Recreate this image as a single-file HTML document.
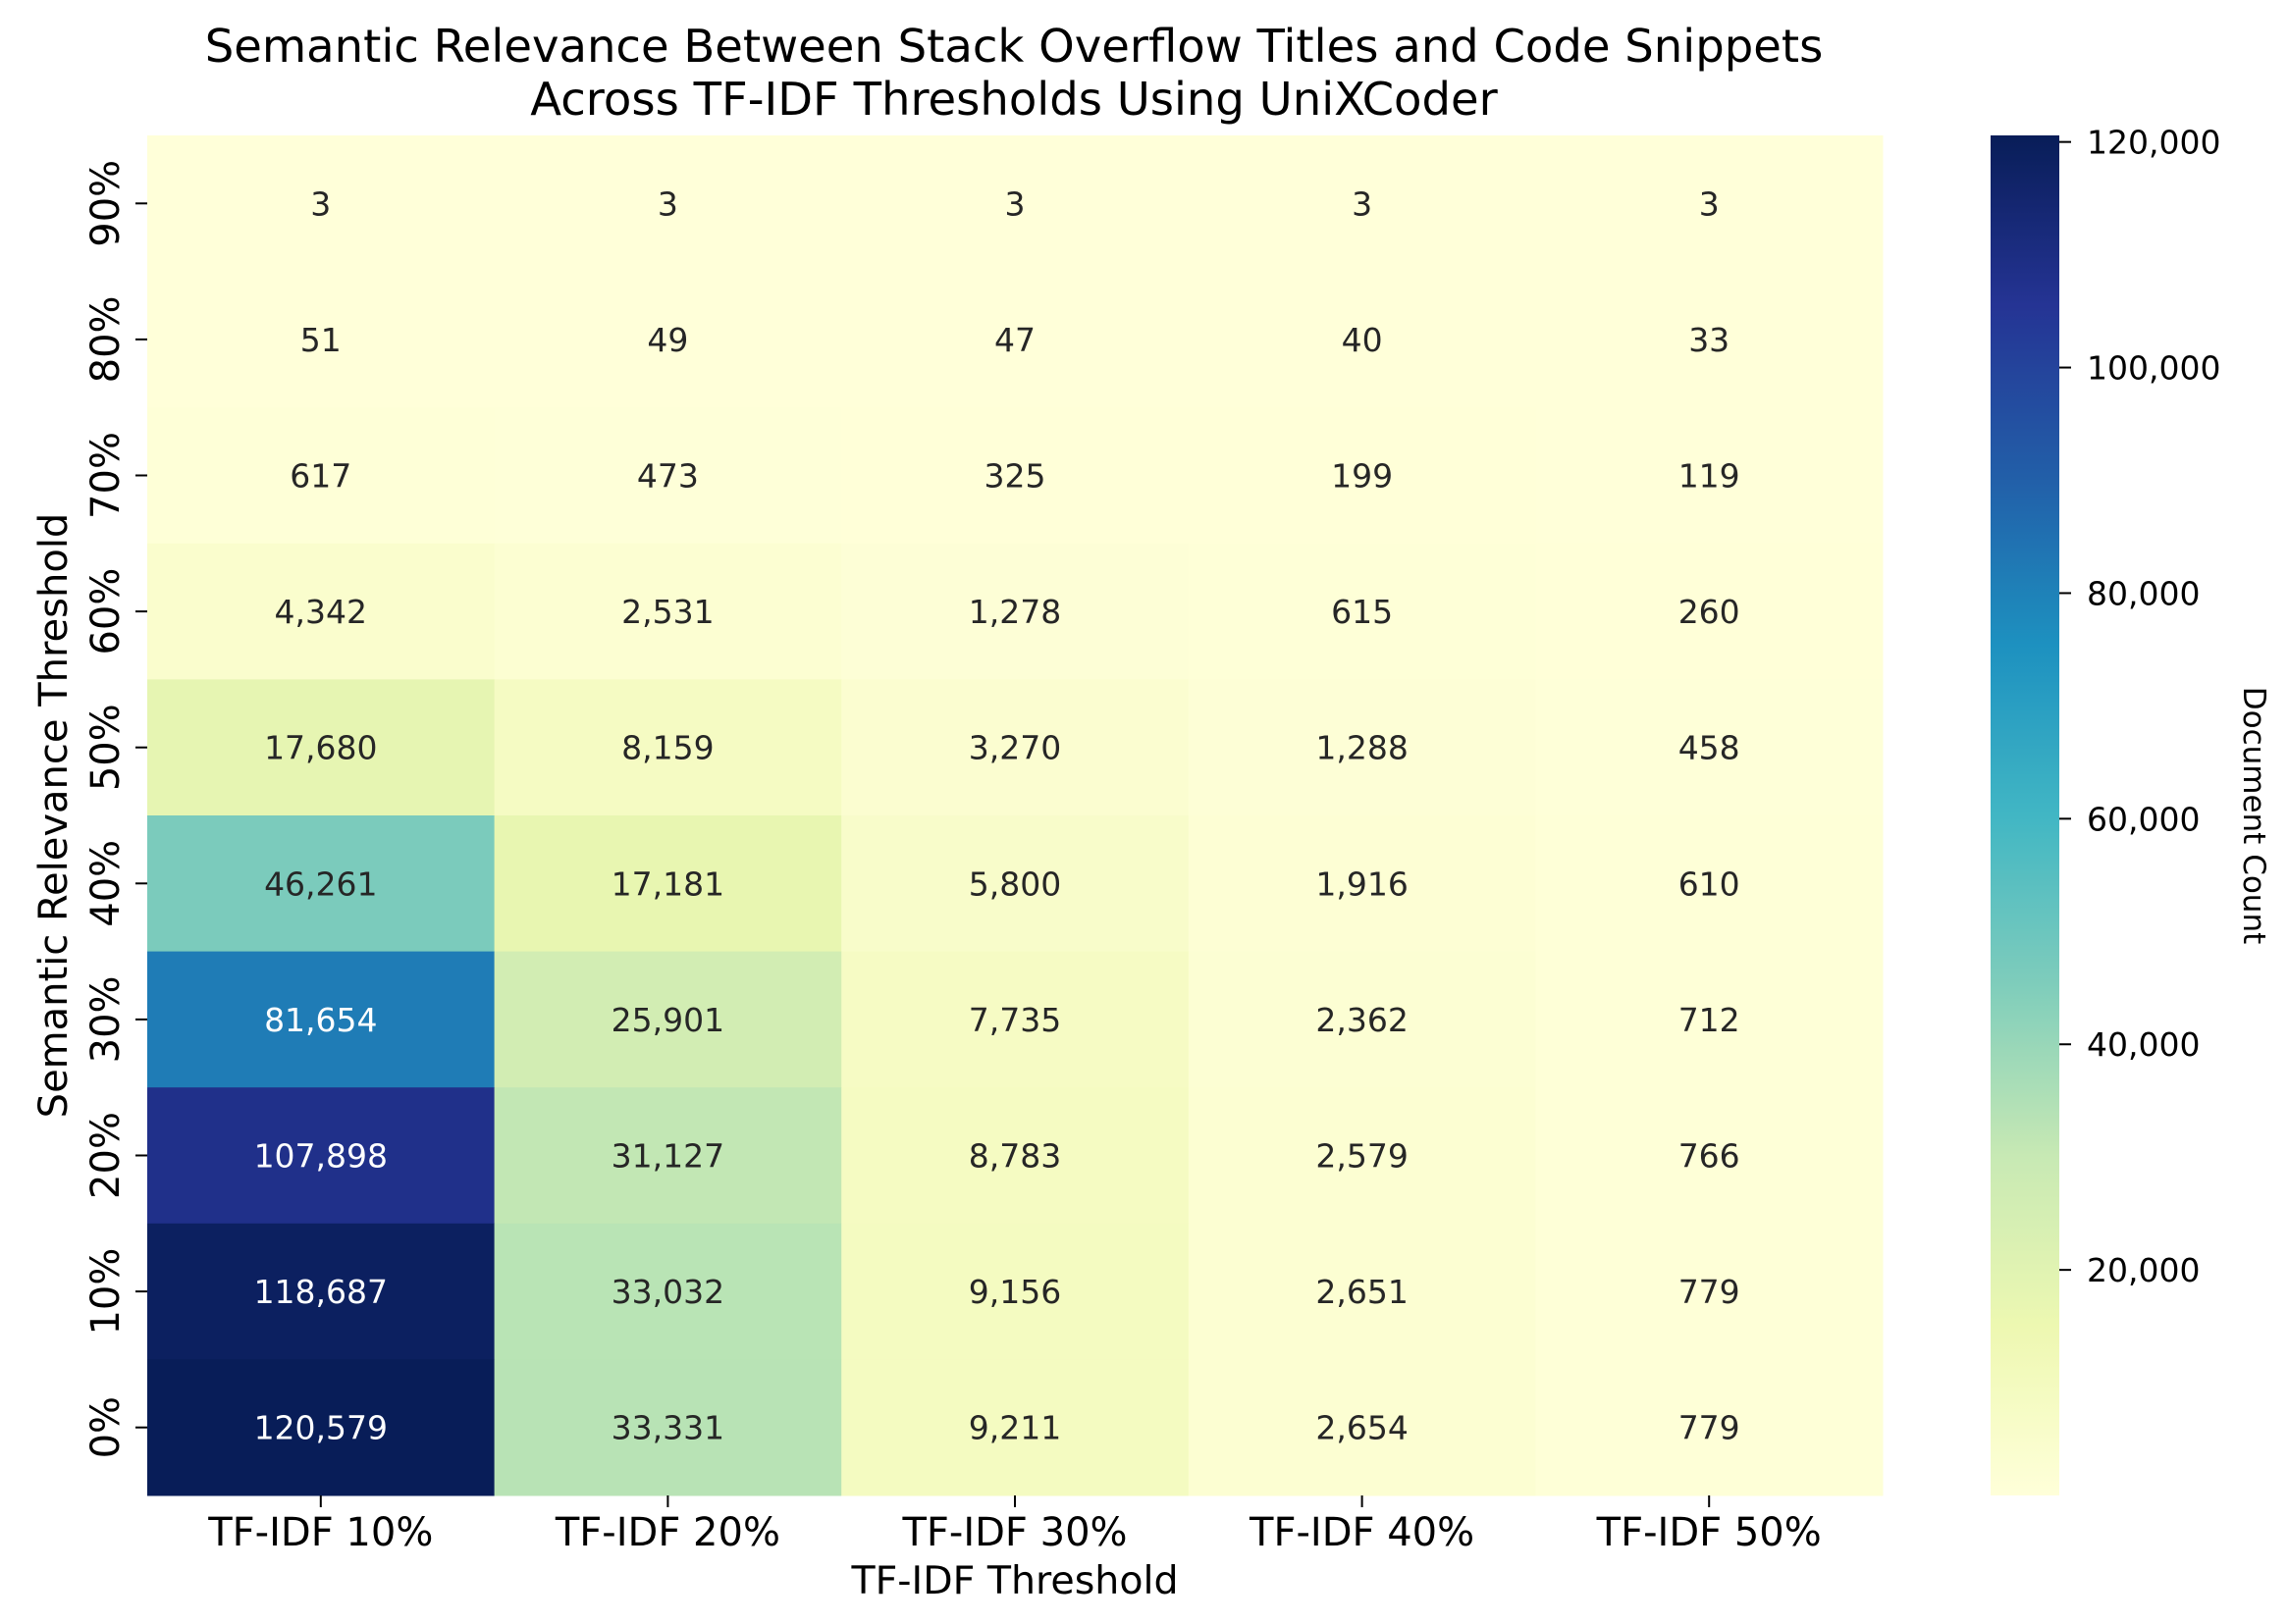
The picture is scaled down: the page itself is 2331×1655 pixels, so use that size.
<!DOCTYPE html>
<html><head><meta charset="utf-8"><style>
html,body{margin:0;padding:0;background:#fff;}
svg{display:block;font-family:"DejaVu Sans","Liberation Sans",sans-serif;}
</style></head><body>
<svg id="chart" width="2331" height="1655" viewBox="0 0 2331 1655" xmlns="http://www.w3.org/2000/svg">
<defs><linearGradient id="cbgrad" x1="0" y1="1" x2="0" y2="0"></linearGradient></defs>
<text x="1033" y="63" font-size="46.5" text-anchor="middle" fill="#000">Semantic Relevance Between Stack Overflow Titles and Code Snippets</text>
<text x="1033" y="117" font-size="46.5" text-anchor="middle" fill="#000">Across TF-IDF Thresholds Using UniXCoder</text>
<g id="cells"></g>
<g id="xticks"></g>
<g id="yticks"></g>
<text x="1034" y="1624" font-size="39.5" text-anchor="middle" fill="#000">TF-IDF Threshold</text>
<text transform="translate(68,831) rotate(-90)" font-size="40" text-anchor="middle" fill="#000">Semantic Relevance Threshold</text>
<rect x="2028" y="138" width="70" height="1386" fill="url(#cbgrad)"/>
<g id="cbticks"></g>
<text transform="translate(2286,831) rotate(90)" font-size="31" text-anchor="middle" fill="#000">Document Count</text>
</svg>
<script>
const xCategories = ["TF-IDF 10%","TF-IDF 20%","TF-IDF 30%","TF-IDF 40%","TF-IDF 50%"];
const yCategories = ["90%","80%","70%","60%","50%","40%","30%","20%","10%","0%"];
const row90 = [3,3,3,3,3];
const row80 = [51,49,47,40,33];
const row70 = [617,473,325,199,119];
const row60 = [4342,2531,1278,615,260];
const row50 = [17680,8159,3270,1288,458];
const row40 = [46261,17181,5800,1916,610];
const row30 = [81654,25901,7735,2362,712];
const row20 = [107898,31127,8783,2579,766];
const row10 = [118687,33032,9156,2651,779];
const row0 = [120579,33331,9211,2654,779];
const values = [row90,row80,row70,row60,row50,row40,row30,row20,row10,row0];
const cbTicks = [20000,40000,60000,80000,100000,120000];

const NS="http://www.w3.org/2000/svg";
const L=150,T=138,W=1768,H=1386;
const vmin=3,vmax=120579;
const cw=W/xCategories.length, ch=H/yCategories.length;
const stops=["#ffffd9","#edf8b1","#c7e9b4","#7fcdbb","#41b6c4","#1d91c0","#225ea8","#253494","#081d58"];
function hex(h){return [1,3,5].map(i=>parseInt(h.substr(i,2),16));}
function cmap(v){
  let t=Math.max(0,Math.min(1,(v-vmin)/(vmax-vmin)))*(stops.length-1);
  let i=Math.min(Math.floor(t),stops.length-2),f=t-i;
  const a=hex(stops[i]),b=hex(stops[i+1]);
  return a.map((c,k)=>Math.round(c+(b[k]-c)*f));
}
function lum(c){const l=c.map(x=>{x/=255;return x<=0.03928?x/12.92:Math.pow((x+0.055)/1.055,2.4);});return 0.2126*l[0]+0.7152*l[1]+0.0722*l[2];}
function xPos(i){return L+cw*(i+0.5);}
function yPos(j){return T+ch*(j+0.5);}
function cbY(v){return T+H-(v-vmin)/(vmax-vmin)*H;}
function mk(tag,attrs,parent){const e=document.createElementNS(NS,tag);for(const k in attrs)e.setAttribute(k,attrs[k]);parent.appendChild(e);return e;}

const cells=document.getElementById('cells');
values.forEach((row,j)=>row.forEach((v,i)=>{
  const c=cmap(v);
  const r=mk('rect',{x:L+cw*i,y:T+ch*j,width:cw+0.5,height:ch+0.5,fill:`rgb(${c})`},cells);
  
  
  const t=mk('text',{x:xPos(i),y:yPos(j)+12,'font-size':33,'text-anchor':'middle',fill:lum(c)>0.408?'#262626':'#ffffff'},cells);
  
  
  t.textContent=v.toLocaleString('en-US');
}));
const xt=document.getElementById('xticks');
xCategories.forEach((c,i)=>{
  const l=mk('line',{x1:xPos(i),x2:xPos(i),y1:T+H,y2:T+H+12,stroke:'#000','stroke-width':2},xt);
  
  
  const t=mk('text',{x:xPos(i),y:1575,'font-size':40,'text-anchor':'middle',fill:'#000'},xt);
  
  
  t.textContent=c;
});
const yt=document.getElementById('yticks');
yCategories.forEach((c,j)=>{
  const l=mk('line',{x1:L-12,x2:L,y1:yPos(j),y2:yPos(j),stroke:'#000','stroke-width':2},yt);
  
  
  const t=mk('text',{transform:`translate(121,${yPos(j)}) rotate(-90)`,'font-size':40,'text-anchor':'middle',fill:'#000'},yt);
  
  
  t.textContent=c;
});
const grad=document.getElementById('cbgrad');
for(let k=0;k<=40;k++){const c=cmap(vmin+(vmax-vmin)*k/40);mk('stop',{offset:k/40,'stop-color':`rgb(${c})`},grad);}
const cbt=document.getElementById('cbticks');
cbTicks.forEach(v=>{
  const y=cbY(v);
  const l=mk('line',{x1:2098,x2:2110,y1:y,y2:y,stroke:'#000','stroke-width':2},cbt);
  
  
  const t=mk('text',{x:2126,y:y+12,'font-size':33,fill:'#000'},cbt);
  
  
  t.textContent=v.toLocaleString('en-US');
});
</script>
</body></html>
